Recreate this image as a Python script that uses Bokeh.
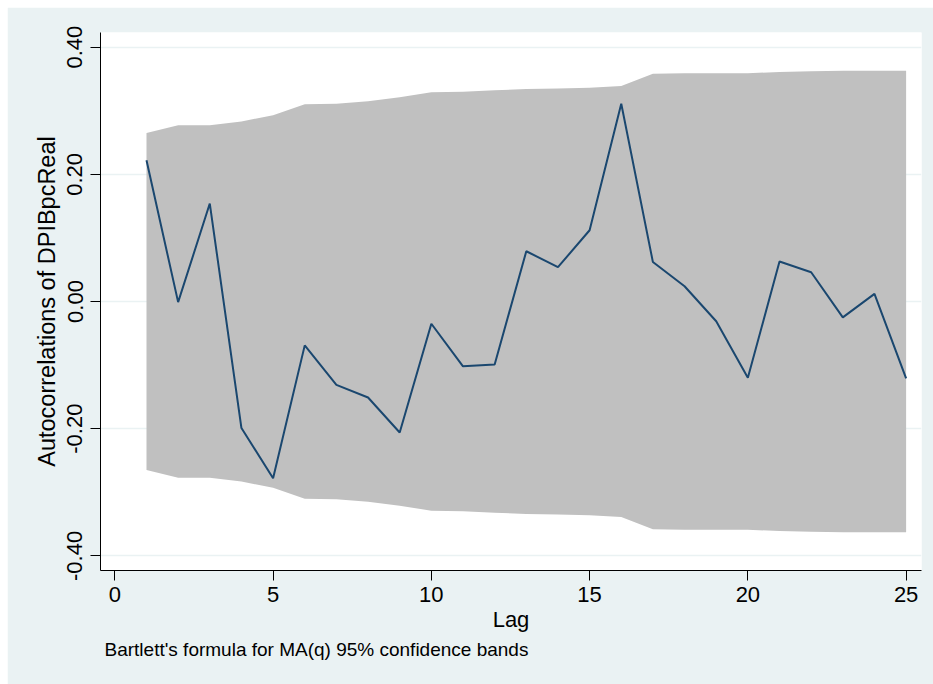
from bokeh.plotting import figure
from bokeh.models import FixedTicker, Range1d, Title
from bokeh.embed import file_html
from bokeh.resources import INLINE

# Autocorrelations of DPIBpcReal by lag
lags = list(range(1, 26))
acf = [0.222, -0.001, 0.154, -0.199, -0.278, -0.069, -0.131, -0.151, -0.206, -0.035,
       -0.102, -0.099, 0.079, 0.054, 0.112, 0.311, 0.062, 0.024, -0.031, -0.120,
       0.063, 0.046, -0.025, 0.012, -0.121]
# Half-width of the 95% confidence band (Bartlett's formula for MA(q))
band = [0.265, 0.277, 0.277, 0.283, 0.293, 0.310, 0.311, 0.315, 0.321, 0.329,
        0.330, 0.332, 0.334, 0.335, 0.336, 0.339, 0.358, 0.359, 0.359, 0.359,
        0.361, 0.362, 0.363, 0.363, 0.363]
band_lo = [-b for b in band]

x_ticks = [0, 5, 10, 15, 20, 25]
y_ticks = [-0.4, -0.2, 0.0, 0.2, 0.4]
y_tick_labels = ["-0.40", "-0.20", "0.00", "0.20", "0.40"]

BG = "#eaf2f3"
FONT = "Liberation Sans"

p = figure(width=926, height=677, output_backend="svg", toolbar_location=None,
           x_range=Range1d(-0.453, 25.486), y_range=Range1d(-0.423, 0.423),
           min_border_left=93, min_border_right=12, min_border_top=25,
           min_border_bottom=114, margin=(7, 0, 0, 7))
p.background_fill_color = "white"
p.border_fill_color = BG
p.outline_line_color = None

# confidence band and autocorrelation line
p.varea(x=lags, y1=band_lo, y2=band, fill_color="#c0c0c0")
p.line(x=lags, y=acf, line_color="#1a476f", line_width=2)

p.xgrid.grid_line_color = None
p.ygrid.grid_line_color = BG
p.ygrid.grid_line_width = 1.5
p.ygrid.ticker = FixedTicker(ticks=y_ticks)

p.xaxis.ticker = FixedTicker(ticks=x_ticks)
p.yaxis.ticker = FixedTicker(ticks=y_ticks)
p.yaxis.major_label_overrides = dict(zip(y_ticks, y_tick_labels))
p.yaxis.major_label_orientation = "vertical"

p.xaxis.axis_label = "Lag"
p.yaxis.axis_label = "Autocorrelations of DPIBpcReal"

for ax in (p.xaxis, p.yaxis):
    ax.axis_line_color = "black"
    ax.axis_line_width = 1
    ax.major_tick_line_color = "black"
    ax.major_tick_out = 10
    ax.major_tick_in = 0
    ax.minor_tick_line_color = None
    ax.major_label_text_font = FONT
    ax.major_label_text_font_size = "22px"
    ax.major_label_text_color = "black"
    ax.axis_label_text_font = FONT
    ax.axis_label_text_font_style = "normal"
    ax.axis_label_text_color = "black"

p.xaxis.axis_label_text_font_size = "22px"
p.yaxis.axis_label_text_font_size = "23.5px"
p.xaxis.major_label_standoff = 6
p.xaxis.axis_label_standoff = 2
p.yaxis.major_label_standoff = 8
p.yaxis.axis_label_standoff = 5

note = Title(text="Bartlett's formula for MA(q) 95% confidence bands", align="left",
             offset=4, standoff=5, text_font=FONT, text_font_size="19px",
             text_font_style="normal", text_color="black")
p.add_layout(note, "below")

open("out.html", "w").write(file_html(p, INLINE))
